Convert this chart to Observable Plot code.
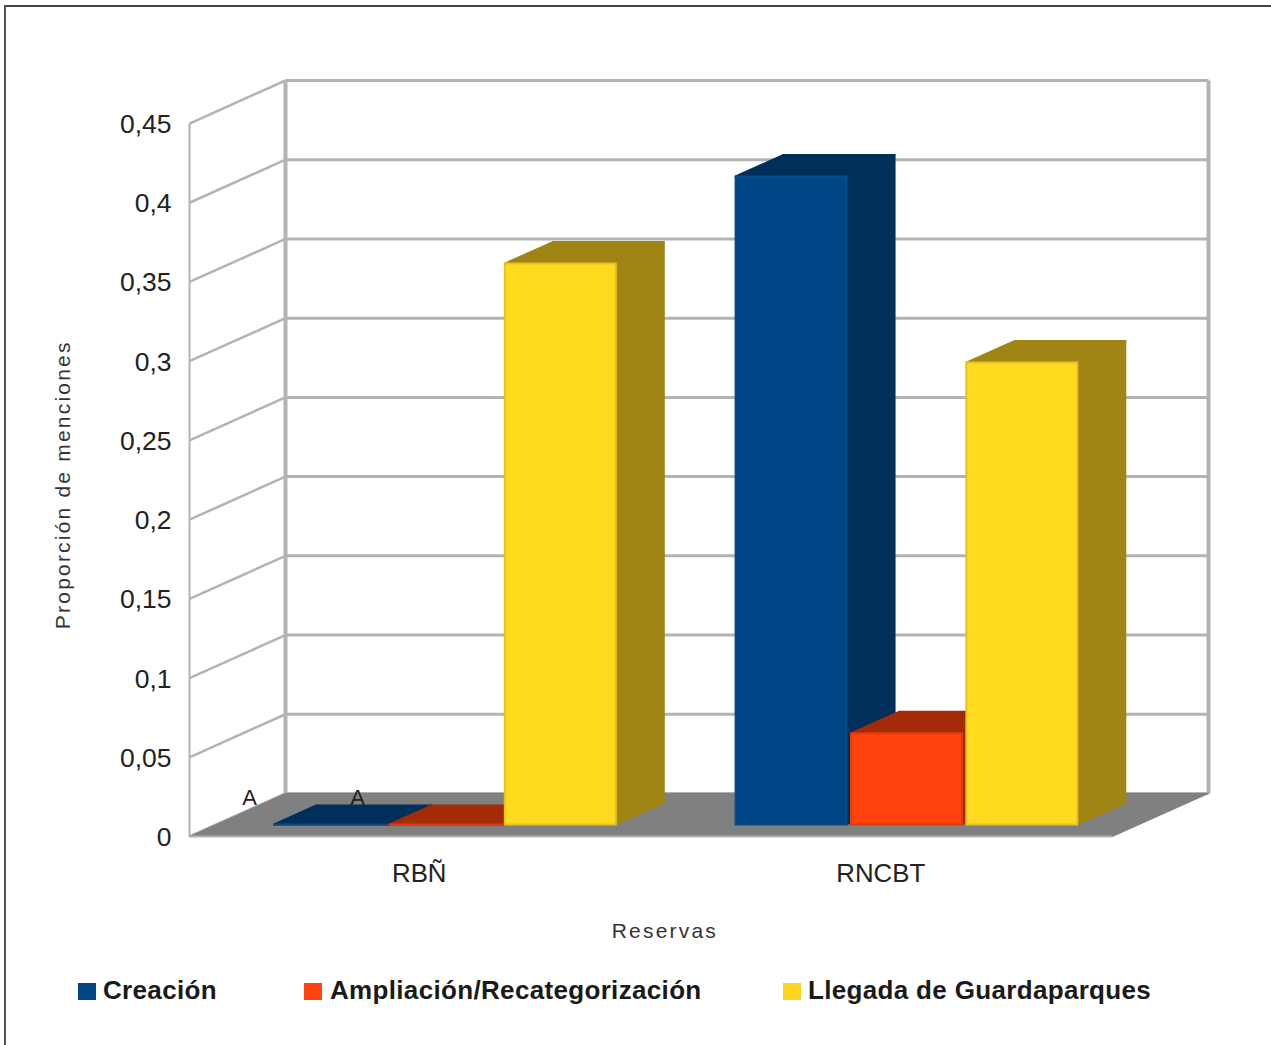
<!DOCTYPE html>
<html lang="es">
<head>
<meta charset="utf-8">
<title>Proporción de menciones por reserva</title>
<script src="https://cdn.jsdelivr.net/npm/d3@7"></script>
<script src="https://cdn.jsdelivr.net/npm/@observablehq/plot@0.6"></script>
<style>
  html, body { margin: 0; padding: 0; background: #fff; }
  #page { position: relative; width: 1271px; height: 1045px; overflow: hidden; font-family: "Liberation Sans", Arial, sans-serif; }
  #page svg { position: absolute; left: 0; top: 0; }
  #sheet { position: absolute; left: 4px; top: 5px; right: 0; bottom: 0; border-left: 2px solid #555; border-top: 2px solid #444; }
  .spaced text { letter-spacing: 2.2px; }
  .key { position: absolute; top: 975px; font-size: 26px; line-height: 30px; font-weight: bold; color: #1a1a1a; letter-spacing: .33px; white-space: nowrap; }
  .swatch { position: absolute; top: 983px; width: 18px; height: 17px; }
</style>
</head>
<body>
<div id="page"><div id="sheet"></div></div>
<script>
// Chart values
const reserves = ["RBÑ", "RNCBT"];
const seriesNames = ["Creación", "Ampliación/Recategorización", "Llegada de Guardaparques"];
const creacion = [0, 0.409];
const ampliacion = [0, 0.0575];
const guardaparques = [0.354, 0.2915];
const tickValues = [0, 0.05, 0.1, 0.15, 0.2, 0.25, 0.3, 0.35, 0.4, 0.45];
const zeroNotes = ["A", "A"];

// Series colours: front face, shaded face
const fronts = ["#004586", "#ff420e", "#ffdb1f"];
const shades = ["#002f5c", "#a32b08", "#a08514"];
const edges = ["#0a4a86", "#e03c0e", "#e6c41f"];
const swatches = ["#004586", "#ff420e", "#ffd320"];

// Oblique projection: a depth d in [0, 1] shifts a point along both data axes
const depthX = 0.208;
const depthY = 0.02715;
const barDepthFront = 0.28;
const barDepthBack = 0.78;
const flatDepthBack = 0.72;
const groupPad = 0.125;
const barSlot = 0.25;
const barWidth = 0.2405;

const project = (x, y, d) => ({x: x + d * depthX, y: y + d * depthY});
const polygon = (corners) => {
  const pts = corners.map(([x, y, d]) => project(x, y, d));
  return [...pts, pts[0]];
};
const face = (corners, fill, stroke) =>
  Plot.line(polygon(corners), {x: "x", y: "y", fill, stroke: stroke ?? fill, strokeWidth: 2, strokeLinejoin: "round"});

// Each bar is painted side, top, then front so that later bars overlap earlier ones
const barMarks = (group, index, value) => {
  const l = group + groupPad + index * barSlot;
  const r = l + (value > 0 ? barWidth : barSlot);
  const f = barDepthFront;
  const b = value > 0 ? barDepthBack : flatDepthBack;
  return [
    face([[r, 0, f], [r, 0, b], [r, value, b], [r, value, f]], shades[index]),
    face([[l, value, f], [r, value, f], [r, value, b], [l, value, b]], shades[index]),
    face([[l, 0, f], [r, 0, f], [r, value, f], [l, value, f]], fronts[index], edges[index])
  ];
};

const allSeries = [creacion, ampliacion, guardaparques];
const bars = reserves.flatMap((_, g) => allSeries.flatMap((s, j) => barMarks(g, j, s[g])));

const edge = (x1, y1, d1, x2, y2, d2, strokeWidth) => {
  const a = project(x1, y1, d1);
  const b = project(x2, y2, d2);
  return Plot.link([0], {x1: () => a.x, y1: () => a.y, x2: () => b.x, y2: () => b.y, stroke: "#b3b3b3", strokeWidth});
};

const topTick = tickValues[tickValues.length - 1];
const decimalComma = (d) => String(d).replace(".", ",");

const chart = Plot.plot({
  width: 1271,
  height: 950,
  marginTop: 80,
  marginLeft: 189,
  marginRight: 63,
  marginBottom: 114,
  style: {fontFamily: "'Liberation Sans', Arial, sans-serif", background: "transparent"},
  x: {domain: [0, reserves.length + depthX]},
  y: {domain: [0, topTick + depthY]},
  marks: [
    // Back wall and left wall grid
    ...tickValues.map((v) => edge(0, v, 1, reserves.length, v, 1, 3)),
    ...tickValues.map((v) => edge(0, v, 0, 0, v, 1, 2.5)),
    edge(0, 0, 0, 0, topTick, 0, 2),
    edge(0, 0, 1, 0, topTick, 1, 4),
    edge(reserves.length, 0, 1, reserves.length, topTick, 1, 4),

    // Floor
    Plot.line(polygon([[0, 0, 0], [reserves.length, 0, 0], [reserves.length, 0, 1], [0, 0, 1]]),
      {x: "x", y: "y", fill: "#808080", stroke: "#808080", strokeWidth: 1}),
    edge(0, 0, 0, reserves.length, 0, 0, 2),

    ...bars,

    // Labels on the two empty bars
    Plot.text([zeroNotes[0]], {x: () => 0.13, y: () => 0.0245, text: (d) => d, fontSize: 22, fill: "#222"}),
    Plot.text([zeroNotes[1]], {x: () => 0.364, y: () => 0.0245, text: (d) => d, fontSize: 22, fill: "#222"}),

    Plot.axisY({ticks: tickValues, tickFormat: decimalComma, tickSize: 0, tickPadding: 18, fontSize: 26.5, dy: 1, fill: "#222", label: null}),
    Plot.axisX({ticks: reserves.map((_, i) => i + 0.5), tickFormat: (d) => reserves[Math.floor(d)], tickSize: 0, tickPadding: 27, fontSize: 25.8, dx: -1, fill: "#222", label: null}),

    // Axis titles
    Plot.text(["Reservas"], {x: () => 1.03, frameAnchor: "bottom", dy: 101, text: (d) => d, fontSize: 21, fill: "#333", className: "spaced"}),
    Plot.text(["Proporción de menciones"], {frameAnchor: "left", y: () => 0.222, dx: -126, rotate: -90, textAnchor: "middle", text: (d) => d, fontSize: 21, fill: "#333", className: "spaced"})
  ]
});

const page = document.getElementById("page");
page.appendChild(chart);

// Legend below the plot
const swatchLeft = [78, 304, 783];
const labelLeft = [103, 330, 808];
seriesNames.forEach((name, i) => {
  const sw = document.createElement("div");
  sw.className = "swatch";
  sw.style.left = swatchLeft[i] + "px";
  sw.style.background = swatches[i];
  page.appendChild(sw);
  const label = document.createElement("div");
  label.className = "key";
  label.style.left = labelLeft[i] + "px";
  label.textContent = name;
  page.appendChild(label);
});
</script>
</body>
</html>
